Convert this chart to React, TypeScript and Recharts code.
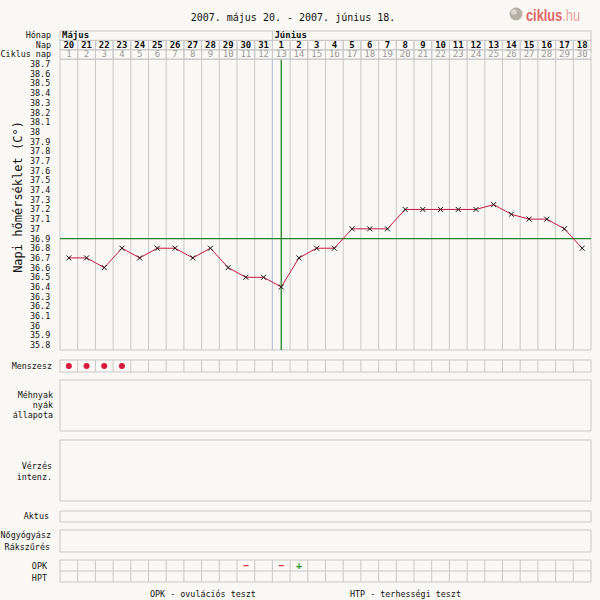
import {CartesianGrid, ComposedChart, Line, ReferenceLine, Scatter, XAxis, YAxis} from 'recharts'

// chart data
const monthNames = ['Május', 'Június']
const monthStarts = [1, 13]
const napDays = [20, 21, 22, 23, 24, 25, 26, 27, 28, 29, 30, 31, 1, 2, 3, 4, 5, 6, 7, 8, 9, 10, 11, 12, 13, 14, 15, 16, 17, 18]
const cycleDays = [1, 2, 3, 4, 5, 6, 7, 8, 9, 10, 11, 12, 13, 14, 15, 16, 17, 18, 19, 20, 21, 22, 23, 24, 25, 26, 27, 28, 29, 30]
const temps = [36.7, 36.7, 36.6, 36.8, 36.7, 36.8, 36.8, 36.7, 36.8, 36.6, 36.5, 36.5, 36.4, 36.7, 36.8, 36.8, 37.0, 37.0, 37.0, 37.2, 37.2, 37.2, 37.2, 37.2, 37.25, 37.15, 37.1, 37.1, 37.0, 36.8]
const tempTicks = [35.8, 35.9, 36, 36.1, 36.2, 36.3, 36.4, 36.5, 36.6, 36.7, 36.8, 36.9, 37, 37.1, 37.2, 37.3, 37.4, 37.5, 37.6, 37.7, 37.8, 37.9, 38, 38.1, 38.2, 38.3, 38.4, 38.5, 38.6, 38.7]
const coverline = 36.9
const ovulationDay = 13
const menszeszDays = [1, 2, 3, 4]
const opkDays = [11, 13, 14]
const opkResults = ['−', '−', '+']

const MONO = '"DejaVu Sans Mono", monospace'
const GRID = '#c9c9c9'
const BG = '#f9f8f4'
const PLOT_L = 60
const PLOT_R = 9
const PLOT_W = 600 - PLOT_L - PLOT_R
const COL_W = PLOT_W / napDays.length
const ROW_H = 9.4
const X_DOMAIN = [0.5, napDays.length + 0.5]
const LBL = 8.4

const colBounds = [...cycleDays.map(d => d - 0.5), cycleDays.length + 0.5]
const tempBounds = [...tempTicks.map(t => t - 0.05), 38.75]

const tableData = cycleDays.map((d, i) => ({day: d, temp: temps[i]}))
const menszeszData = menszeszDays.map(d => ({x: d, y: 0.5}))
const opkData = opkDays.map((d, i) => ({x: d, y: 1.5, s: opkResults[i]}))

const CrossDot = (props: any) => {
    const {cx, cy} = props
    if (cx == null || cy == null) return null
    return (
        <g stroke="#111" strokeWidth={1}>
            <line x1={cx - 2.5} y1={cy - 2.5} x2={cx + 2.5} y2={cy + 2.5}/>
            <line x1={cx - 2.5} y1={cy + 2.5} x2={cx + 2.5} y2={cy - 2.5}/>
        </g>
    )
}

const MonthTick = (props: any) => {
    const {x, y, payload} = props
    const i = monthStarts.indexOf(payload.value)
    const end = i < monthStarts.length - 1 ? monthStarts[i + 1] : cycleDays.length + 1
    const left = x - COL_W / 2
    return (
        <g>
            <rect x={left} y={y - ROW_H} width={(end - payload.value) * COL_W} height={ROW_H} fill="none" stroke={GRID}/>
            <text x={left + 2} y={y - 2} fontSize={9} fontFamily={MONO} fontWeight="bold" fill="#111">{monthNames[i]}</text>
        </g>
    )
}

const NapTick = (props: any) => {
    const {x, y, payload} = props
    return (
        <g>
            <rect x={x - COL_W / 2} y={y - ROW_H} width={COL_W} height={ROW_H} fill="none" stroke={GRID}/>
            <text x={x} y={y - 2} textAnchor="middle" fontSize={9} fontFamily={MONO} fontWeight="bold" fill="#111">
                {napDays[payload.value - 1]}
            </text>
        </g>
    )
}

const CycleTick = (props: any) => {
    const {x, y, payload} = props
    return (
        <g>
            <rect x={x - COL_W / 2} y={y - ROW_H} width={COL_W} height={ROW_H} fill="none" stroke={GRID}/>
            <text x={x} y={y - 2} textAnchor="middle" fontSize={9} fontFamily={MONO} fill="#999">
                {cycleDays[payload.value - 1]}
            </text>
        </g>
    )
}

const TempTick = (props: any) => {
    const {y, payload} = props
    return (
        <text x={30} y={y + 3} fontSize={LBL} fontFamily={MONO} fill="#111">
            {Number(payload.value.toFixed(1)).toString()}
        </text>
    )
}

function Strip({top, height, rows, points, shape}: any) {
    const rowBounds = Array.from({length: rows + 1}, (_, i) => i)
    return (
        <div style={{position: 'absolute', left: 0, top: top - 1}}>
            <ComposedChart width={600} height={height + 2} data={points}
                           margin={{top: 1, right: PLOT_R, bottom: 1, left: PLOT_L}}>
                <XAxis xAxisId="g" type="number" dataKey="x" domain={X_DOMAIN} ticks={colBounds} interval={0} hide/>
                <YAxis yAxisId="g" type="number" dataKey="y" domain={[0, rows]} ticks={rowBounds} interval={0} hide/>
                <CartesianGrid xAxisId="g" yAxisId="g" stroke={GRID}/>
                {points.length > 0 && (
                    <Scatter xAxisId="g" yAxisId="g" data={points} shape={shape} isAnimationActive={false}/>
                )}
            </ComposedChart>
        </div>
    )
}

const RedDot = (props: any) => <circle cx={props.cx} cy={props.cy} r={3} fill="#d81b3c"/>

const OpkMark = (props: any) => {
    const plus = props.payload.s === '+'
    return (
        <text x={props.cx} y={props.cy + 3} textAnchor="middle" fontSize={10} fontFamily={MONO}
              fontWeight="bold" fill={plus ? '#1e9a1e' : '#e0383a'}>
            {props.payload.s}
        </text>
    )
}

const Label = ({x, y, children, anchor = 'end'}: any) => (
    <text x={x} y={y} textAnchor={anchor} fontSize={LBL} fontFamily={MONO} fill="#111">{children}</text>
)

export default function App() {
    return (
        <div style={{position: 'absolute', left: 0, top: 0, width: 600, height: 600, background: BG, overflow: 'hidden'}}>
            <svg width={600} height={600} style={{position: 'absolute', left: 0, top: 0}}>
                <text x={293} y={21} textAnchor="middle" fontSize={10} fontFamily={MONO} fill="#111">
                    2007. május 20. - 2007. június 18.
                </text>

                {/* logo */}
                <circle cx={516} cy={14} r={6.5} fill="#b8afa6"/>
                <circle cx={514} cy={12} r={2.8} fill="#ddd6cf"/>
                <g transform="translate(526,21) scale(0.8,1)">
                    <text x={0} y={0} fontSize={16} fontFamily='"Liberation Sans", sans-serif'>
                        <tspan fill="#e06767" fontWeight="bold">ciklus</tspan>
                        <tspan fill="#eba3a3">.hu</tspan>
                    </text>
                </g>

                <Label x={51} y={38}>Hónap</Label>
                <Label x={51} y={47.5}>Nap</Label>
                <Label x={51} y={57}>Ciklus nap</Label>

                <text transform="translate(22,197) rotate(-90)" textAnchor="middle" fontSize={12}
                      fontFamily={MONO} fill="#111">Napi hőmérséklet (C°)</text>

                <Label x={52} y={369}>Menszesz</Label>
                <Label x={53} y={398}>Méhnyak</Label>
                <Label x={53} y={408}>nyák</Label>
                <Label x={53} y={418}>állapota</Label>
                <Label x={52} y={469}>Vérzés</Label>
                <Label x={52} y={480}>intenz.</Label>
                <Label x={49} y={519}>Aktus</Label>
                <Label x={51} y={538}>Nőgyógyász</Label>
                <Label x={50} y={550}>Rákszűrés</Label>
                <Label x={47} y={569}>OPK</Label>
                <Label x={47} y={581}>HPT</Label>

                <Label x={150} y={597} anchor="start">OPK - ovulációs teszt</Label>
                <Label x={350} y={597} anchor="start">HTP - terhességi teszt</Label>
            </svg>

            <div style={{position: 'absolute', left: 0, top: 0}}>
                <ComposedChart width={600} height={360} data={tableData}
                               margin={{top: 31, right: PLOT_R, bottom: 10, left: 30}}>
                    <XAxis xAxisId="g" type="number" dataKey="day" domain={X_DOMAIN} ticks={colBounds} interval={0} hide/>
                    <XAxis xAxisId="a_ciklus" orientation="top" type="number" dataKey="day" domain={X_DOMAIN}
                           ticks={cycleDays} interval={0} height={ROW_H} tickSize={0} tickMargin={0}
                           axisLine={false} tickLine={false} tick={<CycleTick/>}/>
                    <XAxis xAxisId="b_nap" orientation="top" type="number" dataKey="day" domain={X_DOMAIN}
                           ticks={cycleDays} interval={0} height={ROW_H} tickSize={0} tickMargin={0}
                           axisLine={false} tickLine={false} tick={<NapTick/>}/>
                    <XAxis xAxisId="c_ho" orientation="top" type="number" dataKey="day" domain={X_DOMAIN}
                           ticks={monthStarts} interval={0} height={ROW_H} tickSize={0} tickMargin={0}
                           axisLine={false} tickLine={false} tick={<MonthTick/>}/>
                    <YAxis yAxisId="g" type="number" domain={[35.75, 38.75]} ticks={tempBounds} interval={0} hide/>
                    <YAxis yAxisId="t" type="number" domain={[35.75, 38.75]} ticks={tempTicks} interval={0}
                           width={30} tickSize={0} tickMargin={0} axisLine={false} tickLine={false} tick={<TempTick/>}/>
                    <CartesianGrid xAxisId="g" yAxisId="g" stroke={GRID}/>
                    <ReferenceLine xAxisId="g" yAxisId="t" x={monthStarts[1] - 0.5} stroke="#b7c3dc"/>
                    <ReferenceLine xAxisId="g" yAxisId="t" y={coverline} stroke="#23842a" strokeWidth={1.3}/>
                    <ReferenceLine xAxisId="g" yAxisId="t" x={ovulationDay} stroke="#23842a" strokeWidth={1.3}/>
                    <Line xAxisId="g" yAxisId="t" dataKey="temp" stroke="#c8173f" strokeWidth={1}
                          dot={<CrossDot/>} isAnimationActive={false}/>
                </ComposedChart>
            </div>

            <Strip top={360} height={12} rows={1} points={menszeszData} shape={RedDot}/>
            <Strip top={380} height={51} rows={1} points={[]}/>
            <Strip top={440} height={61} rows={1} points={[]}/>
            <Strip top={511} height={11} rows={1} points={[]}/>
            <Strip top={530} height={22} rows={2} points={[]}/>
            <Strip top={560} height={22} rows={2} points={opkData} shape={OpkMark}/>
        </div>
    )
}
